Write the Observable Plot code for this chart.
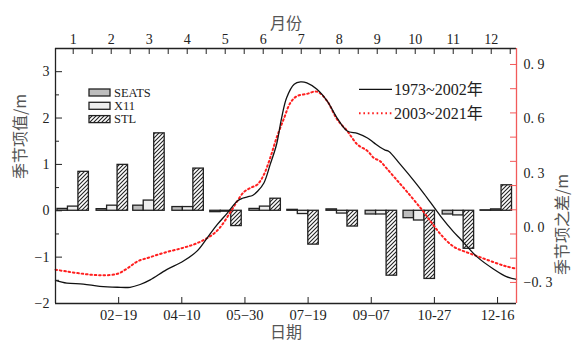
<!DOCTYPE html>
<html><head><meta charset="utf-8">
<script src="https://cdn.jsdelivr.net/npm/d3@7"></script>
<script src="https://cdn.jsdelivr.net/npm/@observablehq/plot@0.6"></script>
<style>
body{margin:0;background:#fff;}
#chart{width:575px;height:344px;}
</style></head><body><div id="chart"></div>
<script>
// ---- data ----
const months = [1,2,3,4,5,6,7,8,9,10,11,12];
const barDays = [14,45,74,105,135,166,196,227,258,288,319,349];
const seats = [0.04, 0.035, 0.11, 0.08, -0.03, 0.04, 0.02, 0.03, -0.08, -0.16, -0.08, 0.01];
const x11   = [0.09, 0.11, 0.22, 0.08, -0.02, 0.09, -0.07, -0.06, -0.08, -0.21, -0.10, 0.03];
const stl   = [0.84, 0.99, 1.67, 0.91, -0.33, 0.26, -0.73, -0.34, -1.40, -1.47, -0.82, 0.55];

const blackDays = [0,9,22,35,49,59,67,75,88,101,112,120,128,136,144,148,152,156,160,165,170,175,179,183,189,194,199,207,215,223,231,239,247,252,257,261,264,273,284,292,305,315,321,334,347,357,365];
const blackVals = [-1.50,-1.56,-1.58,-1.63,-1.65,-1.65,-1.59,-1.49,-1.27,-1.09,-0.87,-0.59,-0.30,-0.05,0.21,0.27,0.30,0.33,0.42,0.60,1.00,1.43,2.00,2.44,2.73,2.78,2.76,2.62,2.37,2.00,1.72,1.67,1.57,1.47,1.37,1.31,1.28,1.00,0.64,0.36,-0.12,-0.45,-0.62,-1.00,-1.26,-1.42,-1.48];

const redDays = [0,9,22,35,49,57,65,75,88,101,112,123,130,138,144,149,154,160,165,170,175,181,186,191,199,207,215,223,231,239,247,252,257,262,270,278,289,297,305,315,326,336,347,357,365];
const redVals = [-1.27,-1.31,-1.36,-1.39,-1.36,-1.24,-1.09,-1.00,-0.89,-0.80,-0.70,-0.54,-0.37,-0.05,0.21,0.40,0.49,0.57,0.78,1.14,1.57,2.00,2.33,2.47,2.52,2.57,2.37,1.97,1.72,1.43,1.29,1.14,1.07,0.92,0.67,0.42,0.06,-0.23,-0.51,-0.77,-0.90,-1.00,-1.11,-1.20,-1.25];

const dateTickDays = [50,100,150,200,250,300,350];
const dateTickLabels = ["02\u221219","04\u221210","05\u221230","07\u221219","09\u221207","10-27","12-16"];
const leftTicks = [-2,-1,0,1,2,3];
const leftMinor = [-1.5,-0.5,0.5,1.5,2.5];
const rightLabels = [0.9,0.6,0.3,0,-0.3];
const rightLabelText = ["0. 9","0. 6","0. 3","0. 0","\u22120. 3"];
const rightTickCount = 10;
const seriesNames = ["SEATS","X11","STL"];
const periodNames = ["1973~2002年","2003~2021年"];

// ---- scales helpers ----
const monthToDay = d3.scaleLinear([0.534, 12.665], [0, 365]);
const rightToLeft = d3.scaleLinear([-0.416, 0.988], [-2, 3.5]);
const monthTickDays = months.map(m => monthToDay(m));
const halfTickDays = months.map(m => monthToDay(m + 0.5));
const rightTicks = d3.range(rightTickCount).map(i => rightToLeft(0.9 - i * 1.2 / (rightTickCount - 1)));

const bw = 8.3;
const mk = (vals, k) => vals.map((v, i) => ({x1: barDays[i] + (k - 1.5) * bw, x2: barDays[i] + (k - 0.5) * bw, v}));
const seatsRows = mk(seats, 0), x11Rows = mk(x11, 1), stlRows = mk(stl, 2);
const blackData = blackDays.map((d, i) => ({d, v: blackVals[i]}));
const redData = redDays.map((d, i) => ({d, v: redVals[i]}));

const serif = "Liberation Serif, Noto Sans CJK SC, serif";
const cjk = "Noto Sans CJK SC, sans-serif";
const RED = "#f25a5a";
const DOT = "1.6,2.8";

const svg = Plot.plot({
  width: 575, height: 344,
  marginLeft: 55, marginRight: 59, marginTop: 48, marginBottom: 41,
  style: {fontFamily: serif, fontSize: "14px", color: "#222", background: "#fff"},
  x: {domain: [0, 365], axis: null},
  y: {domain: [-2, 3.5], axis: null},
  marks: [
    Plot.rectY(seatsRows, {x1: "x1", x2: "x2", y1: 0, y2: "v", fill: "#bdbdbd", stroke: "#222", strokeWidth: 1.3}),
    Plot.rectY(x11Rows, {x1: "x1", x2: "x2", y1: 0, y2: "v", fill: "#eeeeee", stroke: "#222", strokeWidth: 1.3}),
    Plot.rectY(stlRows, {x1: "x1", x2: "x2", y1: 0, y2: "v", fill: "url(#hatch)", stroke: "#222", strokeWidth: 1.3}),
    Plot.line(redData, {x: "d", y: "v", stroke: "#ff1f1f", strokeWidth: 2, strokeDasharray: DOT, curve: "catmull-rom"}),
    Plot.line(blackData, {x: "d", y: "v", stroke: "#111", strokeWidth: 1.3, curve: "catmull-rom"}),
    // frame
    Plot.ruleX([0], {stroke: "#222", strokeWidth: 1.3}),
    Plot.ruleY([-2], {stroke: "#222", strokeWidth: 1.3}),
    Plot.ruleY([3.5], {stroke: "#222", strokeWidth: 1.3}),
    Plot.ruleX([365], {stroke: RED, strokeWidth: 1.3}),
    // left axis
    Plot.axisY(leftTicks, {anchor: "left", tickSize: -7, tickPadding: 13, fontSize: 14, fill: "#222", label: null,
      tickFormat: d => d < 0 ? "\u2212" + (-d) : String(d)}),
    Plot.axisY(leftMinor, {anchor: "left", tickSize: -4, tickFormat: () => "", label: null}),
    // right axis
    Plot.axisY(rightTicks, {anchor: "right", tickSize: -7, stroke: RED, tickFormat: () => "", label: null}),
    Plot.text(rightLabels, {y: d => rightToLeft(d), text: (d, i) => rightLabelText[i], frameAnchor: "right", dx: 7,
      textAnchor: "start", fontSize: 14, fill: "#222", fontFamily: serif}),
    // top axis (months)
    Plot.axisX(monthTickDays, {anchor: "top", tickSize: -5, tickPadding: 10, fontSize: 14, fill: "#222", label: null,
      tickFormat: d => String(Math.round(monthToDay.invert(d)))}),
    Plot.axisX(halfTickDays, {anchor: "top", tickSize: -5, tickFormat: () => "", label: null}),
    // bottom axis (dates)
    Plot.axisX(dateTickDays, {anchor: "bottom", tickSize: -6, tickPadding: 12, fontSize: 14.5, fill: "#222", label: null,
      tickFormat: d => dateTickLabels[dateTickDays.indexOf(d)]}),
    // axis titles
    Plot.text(["月份"], {frameAnchor: "top", dy: -31, fontSize: 16, fill: "#555", fontFamily: cjk}),
    Plot.text(["日期"], {frameAnchor: "bottom", dy: 34, fontSize: 16, fill: "#555", fontFamily: cjk}),
    Plot.text(["季节项值/m"], {frameAnchor: "left", dx: -35, dy: 3, rotate: -90, fontSize: 16, fill: "#555", fontFamily: cjk}),
    Plot.text(["季节项之差/m"], {frameAnchor: "right", dx: 46, dy: -2, rotate: -90, fontSize: 16, fill: "#555", fontFamily: cjk})
  ]
});

const s = d3.select(svg);
const defs = s.insert("defs", ":first-child");
const pat = defs.append("pattern").attr("id", "hatch").attr("patternUnits", "userSpaceOnUse")
  .attr("width", 4).attr("height", 4);
pat.append("rect").attr("width", 4).attr("height", 4).attr("fill", "#fff");
pat.append("path").attr("d", "M-1,1 l2,-2 M0,4 l4,-4 M3,5 l2,-2").attr("stroke", "#222").attr("stroke-width", 1.1);

// legend (bars)
const lg = s.append("g").attr("font-family", serif).attr("font-size", 12.5).attr("fill", "#222").attr("text-anchor", "start");
const fills = ["#bdbdbd", "#eeeeee", "url(#hatch)"];
const legY = [89, 102.3, 115.6];
seriesNames.forEach((name, i) => {
  lg.append("rect").attr("x", 89).attr("y", legY[i]).attr("width", 21).attr("height", 7)
    .attr("fill", fills[i]).attr("stroke", "#222").attr("stroke-width", 1.3);
  lg.append("text").attr("x", 114).attr("y", legY[i] + 3.5).attr("dy", "0.35em").attr("text-anchor", "start").text(name);
});
// legend (lines)
const ll = s.append("g").attr("font-family", serif).attr("font-size", 16).attr("fill", "#222").attr("text-anchor", "start");
const lineY = [89.3, 113.3];
ll.append("line").attr("x1", 359).attr("x2", 392).attr("y1", lineY[0]).attr("y2", lineY[0]).attr("stroke", "#111").attr("stroke-width", 1.3);
ll.append("line").attr("x1", 359).attr("x2", 392).attr("y1", lineY[1]).attr("y2", lineY[1]).attr("stroke", "#ff1f1f").attr("stroke-width", 2).attr("stroke-dasharray", DOT);
periodNames.forEach((name, i) => {
  ll.append("text").attr("x", 394).attr("y", lineY[i]).attr("dy", "0.35em").attr("text-anchor", "start").text(name);
});

document.getElementById("chart").appendChild(svg);
</script></body></html>
